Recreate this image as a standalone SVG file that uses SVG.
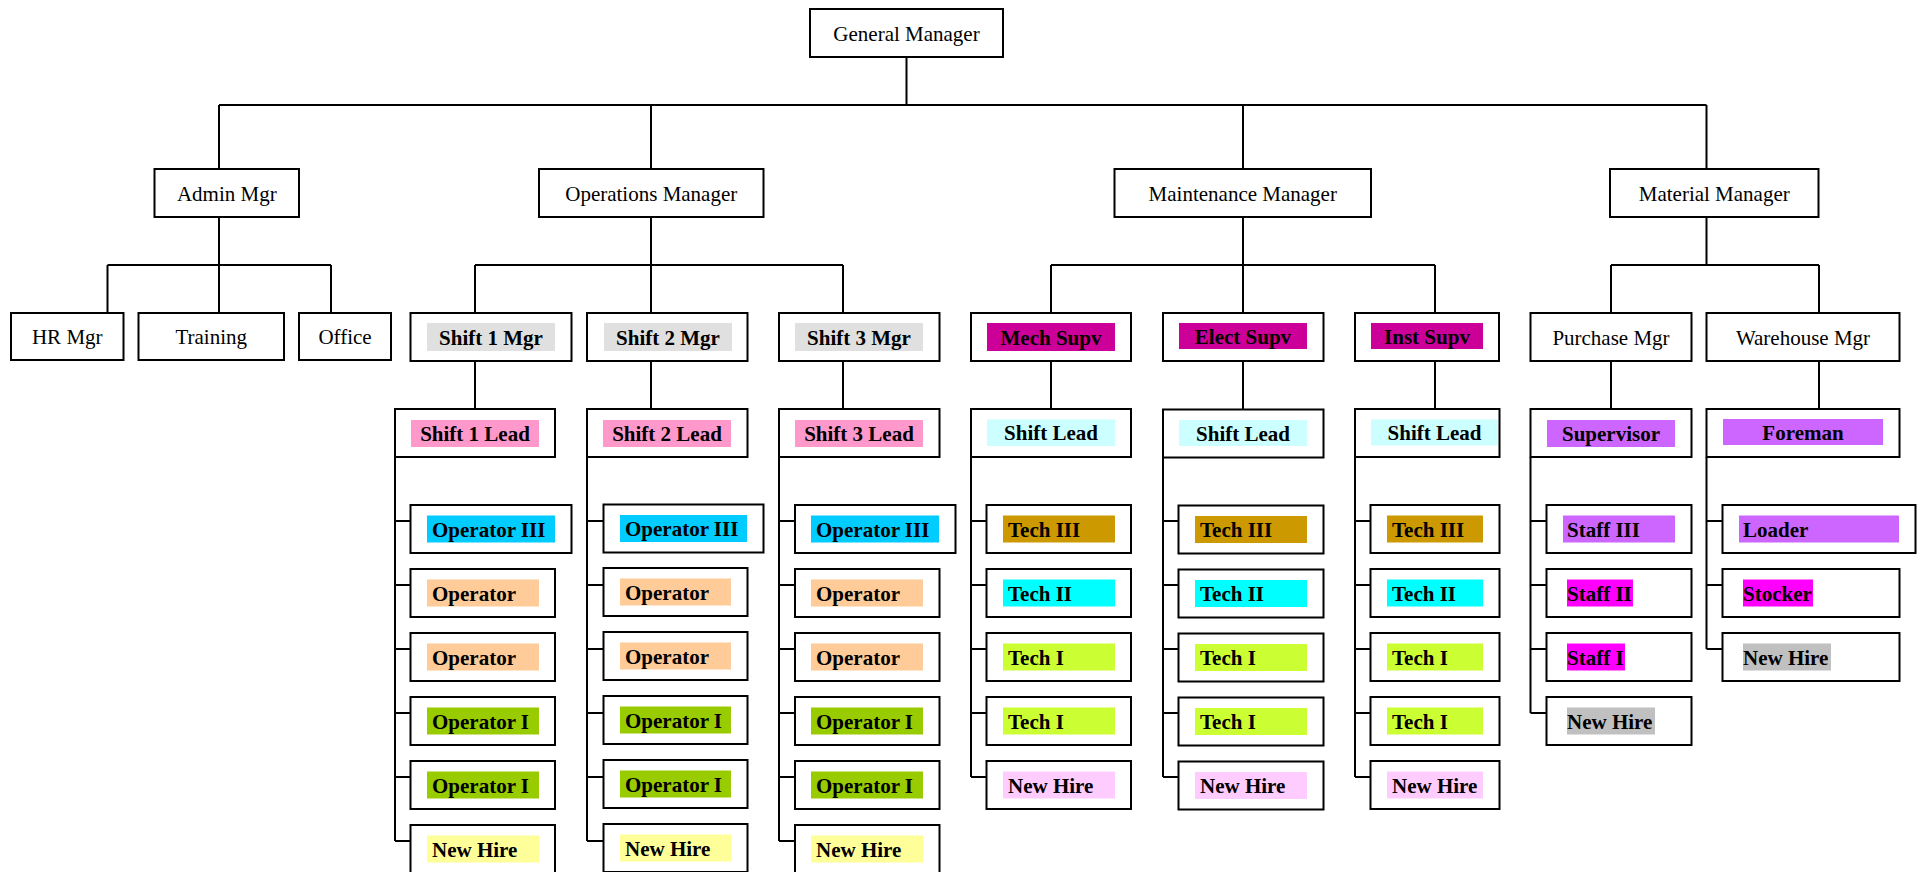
<svg xmlns="http://www.w3.org/2000/svg" width="1921" height="872" viewBox="0 0 1921 872">
<style>
.box{fill:#fff;stroke:#000;stroke-width:2}
.ln{fill:none;stroke:#000;stroke-width:2}
text{font-family:"Liberation Serif","Times New Roman",serif;font-size:21px;fill:#000}
.b{font-weight:bold}
.c{text-anchor:middle}
.gray{fill:#e0e0e0}.pink{fill:#ff99cc}.op3{fill:#00ccff}.op{fill:#ffcc99}.op1{fill:#99cc00}.nh{fill:#ffff99}
.sup{fill:#cc0099}.sl{fill:#ccffff}.t3{fill:#cc9900}.t2{fill:#00ffff}.t1{fill:#ccff33}.nhm{fill:#ffccff}
.vio{fill:#cc66ff}.mag{fill:#ff00ff}.sil{fill:#c0c0c0}
</style>
<rect width="1921" height="872" fill="#fff"/>
<g id="connectors">
<path class="ln" d="M906.5 57V105M219 105H1706.5M219 105V169M651 105V169M1243 105V169M1706.5 105V169"/>
<path class="ln" d="M219 217V265M107.5 265H331M107.5 265V313M219 265V313M331 265V313"/>
<path class="ln" d="M651 217V265M475 265H843M475 265V313M651 265V313M843 265V313"/>
<path class="ln" d="M1243 217V265M1051 265H1435M1051 265V313M1243 265V313M1435 265V313"/>
<path class="ln" d="M1706.5 217V265M1611 265H1819M1611 265V313M1819 265V313"/>
<path class="ln" d="M475 361V409M651 361V409M843 361V409M1051 361V409M1243 361V409M1435 361V409M1611 361V409M1819 361V409"/>
<path class="ln" d="M395 457V841M395 521H410.5M395 585H410.5M395 649H410.5M395 713H410.5M395 777H410.5M395 841H410.5"/>
<path class="ln" d="M587 457V841M587 521H603.5M587 585H603.5M587 649H603.5M587 713H603.5M587 777H603.5M587 841H603.5"/>
<path class="ln" d="M779 457V841M779 521H795M779 585H795M779 649H795M779 713H795M779 777H795M779 841H795"/>
<path class="ln" d="M971 457V777M971 521H986.5M971 585H986.5M971 649H986.5M971 713H986.5M971 777H986.5"/>
<path class="ln" d="M1163 457V777M1163 521H1178.5M1163 585H1178.5M1163 649H1178.5M1163 713H1178.5M1163 777H1178.5"/>
<path class="ln" d="M1355 457V777M1355 521H1370.5M1355 585H1370.5M1355 649H1370.5M1355 713H1370.5M1355 777H1370.5"/>
<path class="ln" d="M1530.5 457V713M1530.5 521H1546.5M1530.5 585H1546.5M1530.5 649H1546.5M1530.5 713H1546.5"/>
<path class="ln" d="M1706.5 457V649M1706.5 521H1722.5M1706.5 585H1722.5M1706.5 649H1722.5"/>
</g>
<g id="gm"><rect class="box" x="810" y="9" width="193" height="48"/><text class="c" x="906.5" y="40.5">General Manager</text></g>
<g id="admin"><rect class="box" x="154.5" y="169" width="144.5" height="48"/><text class="c" x="226.75" y="200.5">Admin Mgr</text></g>
<g id="ops"><rect class="box" x="539" y="169" width="224.5" height="48"/><text class="c" x="651.25" y="200.5">Operations Manager</text></g>
<g id="maint"><rect class="box" x="1114.5" y="169" width="256.5" height="48"/><text class="c" x="1242.75" y="200.5">Maintenance Manager</text></g>
<g id="material"><rect class="box" x="1610" y="169" width="208.5" height="48"/><text class="c" x="1714.25" y="200.5">Material Manager</text></g>
<g id="hr"><rect class="box" x="11" y="313" width="112.5" height="47"/><text class="c" x="67.25" y="344">HR Mgr</text></g>
<g id="training"><rect class="box" x="138.5" y="313" width="145.5" height="47"/><text class="c" x="211.25" y="344">Training</text></g>
<g id="office"><rect class="box" x="299" y="313" width="92" height="47"/><text class="c" x="345" y="344">Office</text></g>
<g id="shift1mgr"><rect class="box" x="410.5" y="313" width="161" height="48"/><rect class="gray" x="427" y="323" width="128" height="28"/><text class="b c" x="491" y="344.5">Shift 1 Mgr</text></g>
<g id="shift2mgr"><rect class="box" x="587" y="313" width="160.5" height="48"/><rect class="gray" x="604" y="323" width="128" height="28"/><text class="b c" x="668" y="344.5">Shift 2 Mgr</text></g>
<g id="shift3mgr"><rect class="box" x="779" y="313" width="160.5" height="48"/><rect class="gray" x="795" y="323" width="128" height="28"/><text class="b c" x="859" y="344.5">Shift 3 Mgr</text></g>
<g id="mechsupv"><rect class="box" x="971" y="313" width="160" height="48"/><rect class="sup" x="987" y="323" width="128" height="28"/><text class="b c" x="1051" y="344.5">Mech Supv</text></g>
<g id="electsupv"><rect class="box" x="1163" y="313" width="160.5" height="48"/><rect class="sup" x="1179" y="323" width="128" height="26"/><text class="b c" x="1243" y="344">Elect Supv</text></g>
<g id="instsupv"><rect class="box" x="1355" y="313" width="144" height="48"/><rect class="sup" x="1371" y="323" width="112" height="26"/><text class="b c" x="1427" y="344">Inst Supv</text></g>
<g id="purchase"><rect class="box" x="1530.5" y="313" width="161" height="48"/><text class="c" x="1611" y="344.5">Purchase Mgr</text></g>
<g id="warehouse"><rect class="box" x="1706.5" y="313" width="193" height="48"/><text class="c" x="1803" y="344.5">Warehouse Mgr</text></g>
<g id="shift1lead"><rect class="box" x="395" y="409" width="160" height="48"/><rect class="pink" x="411" y="420" width="128" height="27"/><text class="b c" x="475" y="440.5">Shift 1 Lead</text></g>
<g id="shift2lead"><rect class="box" x="587" y="409" width="160.5" height="48"/><rect class="pink" x="603" y="420" width="128" height="27"/><text class="b c" x="667" y="440.5">Shift 2 Lead</text></g>
<g id="shift3lead"><rect class="box" x="779" y="409" width="160.5" height="48"/><rect class="pink" x="795" y="420" width="128" height="27"/><text class="b c" x="859" y="440.5">Shift 3 Lead</text></g>
<g id="mechlead"><rect class="box" x="971" y="409" width="160" height="48"/><rect class="sl" x="987" y="419.5" width="128" height="26.5"/><text class="b c" x="1051" y="440">Shift Lead</text></g>
<g id="electlead"><rect class="box" x="1163" y="409.5" width="160.5" height="48"/><rect class="sl" x="1179" y="420" width="128" height="26"/><text class="b c" x="1243" y="441">Shift Lead</text></g>
<g id="instlead"><rect class="box" x="1355" y="409" width="144.5" height="48"/><rect class="sl" x="1371" y="419.5" width="127" height="26"/><text class="b c" x="1434.5" y="440">Shift Lead</text></g>
<g id="supervisor"><rect class="box" x="1530.5" y="409" width="161" height="48"/><rect class="vio" x="1547" y="420" width="128" height="27"/><text class="b c" x="1611" y="440.5">Supervisor</text></g>
<g id="foreman"><rect class="box" x="1706.5" y="409" width="193" height="48"/><rect class="vio" x="1723" y="419" width="160" height="26"/><text class="b c" x="1803" y="440">Foreman</text></g>
<g id="s1-op3"><rect class="box" x="410.5" y="505" width="161" height="48"/><rect class="op3" x="427" y="515.5" width="128" height="27"/><text class="b" x="432" y="536.5">Operator III</text></g>
<g id="s1-op-a"><rect class="box" x="410.5" y="569" width="144.5" height="48"/><rect class="op" x="427" y="579.5" width="112" height="27"/><text class="b" x="432" y="600.5">Operator</text></g>
<g id="s1-op-b"><rect class="box" x="410.5" y="633" width="144.5" height="48"/><rect class="op" x="427" y="643.5" width="112" height="27"/><text class="b" x="432" y="664.5">Operator</text></g>
<g id="s1-op1-a"><rect class="box" x="410.5" y="697" width="144.5" height="48"/><rect class="op1" x="427" y="707.5" width="112" height="27"/><text class="b" x="432" y="728.5">Operator I</text></g>
<g id="s1-op1-b"><rect class="box" x="410.5" y="761" width="144.5" height="48"/><rect class="op1" x="427" y="771.5" width="112" height="27"/><text class="b" x="432" y="792.5">Operator I</text></g>
<g id="s1-nh"><rect class="box" x="410.5" y="825" width="144.5" height="48"/><rect class="nh" x="427" y="835.5" width="112" height="27"/><text class="b" x="432" y="856.5">New Hire</text></g>
<g id="s2-op3"><rect class="box" x="603.5" y="504.5" width="160" height="48"/><rect class="op3" x="620" y="515" width="127" height="27"/><text class="b" x="625" y="536">Operator III</text></g>
<g id="s2-op-a"><rect class="box" x="603.5" y="568" width="144" height="48"/><rect class="op" x="620" y="578.5" width="111" height="27"/><text class="b" x="625" y="599.5">Operator</text></g>
<g id="s2-op-b"><rect class="box" x="603.5" y="632" width="144" height="48"/><rect class="op" x="620" y="642.5" width="111" height="27"/><text class="b" x="625" y="663.5">Operator</text></g>
<g id="s2-op1-a"><rect class="box" x="603.5" y="696" width="144" height="48"/><rect class="op1" x="620" y="706.5" width="111" height="27"/><text class="b" x="625" y="727.5">Operator I</text></g>
<g id="s2-op1-b"><rect class="box" x="603.5" y="760" width="144" height="48"/><rect class="op1" x="620" y="770.5" width="111" height="27"/><text class="b" x="625" y="791.5">Operator I</text></g>
<g id="s2-nh"><rect class="box" x="603.5" y="824" width="144" height="48"/><rect class="nh" x="620" y="834.5" width="111" height="27"/><text class="b" x="625" y="855.5">New Hire</text></g>
<g id="s3-op3"><rect class="box" x="795" y="505" width="160.5" height="48"/><rect class="op3" x="811" y="515.5" width="128" height="27"/><text class="b" x="816" y="536.5">Operator III</text></g>
<g id="s3-op-a"><rect class="box" x="795" y="569" width="144.5" height="48"/><rect class="op" x="811" y="579.5" width="112" height="27"/><text class="b" x="816" y="600.5">Operator</text></g>
<g id="s3-op-b"><rect class="box" x="795" y="633" width="144.5" height="48"/><rect class="op" x="811" y="643.5" width="112" height="27"/><text class="b" x="816" y="664.5">Operator</text></g>
<g id="s3-op1-a"><rect class="box" x="795" y="697" width="144.5" height="48"/><rect class="op1" x="811" y="707.5" width="112" height="27"/><text class="b" x="816" y="728.5">Operator I</text></g>
<g id="s3-op1-b"><rect class="box" x="795" y="761" width="144.5" height="48"/><rect class="op1" x="811" y="771.5" width="112" height="27"/><text class="b" x="816" y="792.5">Operator I</text></g>
<g id="s3-nh"><rect class="box" x="795" y="825" width="144.5" height="48"/><rect class="nh" x="811" y="835.5" width="112" height="27"/><text class="b" x="816" y="856.5">New Hire</text></g>
<g id="mech-t3"><rect class="box" x="986.5" y="505" width="144.5" height="48"/><rect class="t3" x="1003" y="515.5" width="112" height="27"/><text class="b" x="1008" y="536.5">Tech III</text></g>
<g id="mech-t2"><rect class="box" x="986.5" y="569" width="144.5" height="48"/><rect class="t2" x="1003" y="579.5" width="112" height="27"/><text class="b" x="1008" y="600.5">Tech II</text></g>
<g id="mech-t1-a"><rect class="box" x="986.5" y="633" width="144.5" height="48"/><rect class="t1" x="1003" y="643.5" width="112" height="27"/><text class="b" x="1008" y="664.5">Tech I</text></g>
<g id="mech-t1-b"><rect class="box" x="986.5" y="697" width="144.5" height="48"/><rect class="t1" x="1003" y="707.5" width="112" height="27"/><text class="b" x="1008" y="728.5">Tech I</text></g>
<g id="mech-nh"><rect class="box" x="986.5" y="761" width="144.5" height="48"/><rect class="nhm" x="1003" y="771.5" width="112" height="27"/><text class="b" x="1008" y="792.5">New Hire</text></g>
<g id="elect-t3"><rect class="box" x="1178.5" y="505.5" width="145" height="48"/><rect class="t3" x="1195" y="516" width="112" height="27"/><text class="b" x="1200" y="537">Tech III</text></g>
<g id="elect-t2"><rect class="box" x="1178.5" y="569.5" width="145" height="48"/><rect class="t2" x="1195" y="580" width="112" height="27"/><text class="b" x="1200" y="601">Tech II</text></g>
<g id="elect-t1-a"><rect class="box" x="1178.5" y="633.5" width="145" height="48"/><rect class="t1" x="1195" y="644" width="112" height="27"/><text class="b" x="1200" y="665">Tech I</text></g>
<g id="elect-t1-b"><rect class="box" x="1178.5" y="697.5" width="145" height="48"/><rect class="t1" x="1195" y="708" width="112" height="27"/><text class="b" x="1200" y="729">Tech I</text></g>
<g id="elect-nh"><rect class="box" x="1178.5" y="761.5" width="145" height="48"/><rect class="nhm" x="1195" y="772" width="112" height="27"/><text class="b" x="1200" y="793">New Hire</text></g>
<g id="inst-t3"><rect class="box" x="1370.5" y="505" width="129" height="48"/><rect class="t3" x="1387" y="515.5" width="96" height="27"/><text class="b" x="1392" y="536.5">Tech III</text></g>
<g id="inst-t2"><rect class="box" x="1370.5" y="569" width="129" height="48"/><rect class="t2" x="1387" y="579.5" width="96" height="27"/><text class="b" x="1392" y="600.5">Tech II</text></g>
<g id="inst-t1-a"><rect class="box" x="1370.5" y="633" width="129" height="48"/><rect class="t1" x="1387" y="643.5" width="96" height="27"/><text class="b" x="1392" y="664.5">Tech I</text></g>
<g id="inst-t1-b"><rect class="box" x="1370.5" y="697" width="129" height="48"/><rect class="t1" x="1387" y="707.5" width="96" height="27"/><text class="b" x="1392" y="728.5">Tech I</text></g>
<g id="inst-nh"><rect class="box" x="1370.5" y="761" width="129" height="48"/><rect class="nhm" x="1387" y="771.5" width="96" height="27"/><text class="b" x="1392" y="792.5">New Hire</text></g>
<g id="staff3"><rect class="box" x="1546.5" y="505" width="145" height="48"/><rect class="vio" x="1563" y="515.5" width="112" height="27"/><text class="b" x="1567" y="536.5">Staff III</text></g>
<g id="staff2"><rect class="box" x="1546.5" y="569" width="145" height="48"/><rect class="mag" x="1567" y="579.5" width="66" height="27"/><text class="b" x="1567" y="600.5">Staff II</text></g>
<g id="staff1"><rect class="box" x="1546.5" y="633" width="145" height="48"/><rect class="mag" x="1567" y="643.5" width="58" height="27"/><text class="b" x="1567" y="664.5">Staff I</text></g>
<g id="pur-nh"><rect class="box" x="1546.5" y="697" width="145" height="48"/><rect class="sil" x="1567" y="707.5" width="88" height="27"/><text class="b" x="1567" y="728.5">New Hire</text></g>
<g id="loader"><rect class="box" x="1722.5" y="505" width="193" height="48"/><rect class="vio" x="1739" y="515.5" width="160" height="27"/><text class="b" x="1743" y="536.5">Loader</text></g>
<g id="stocker"><rect class="box" x="1722.5" y="569" width="177" height="48"/><rect class="mag" x="1743" y="579.5" width="70" height="27"/><text class="b" x="1743" y="600.5">Stocker</text></g>
<g id="wh-nh"><rect class="box" x="1722.5" y="633" width="177" height="48"/><rect class="sil" x="1743" y="643.5" width="88" height="27"/><text class="b" x="1743" y="664.5">New Hire</text></g>
</svg>
